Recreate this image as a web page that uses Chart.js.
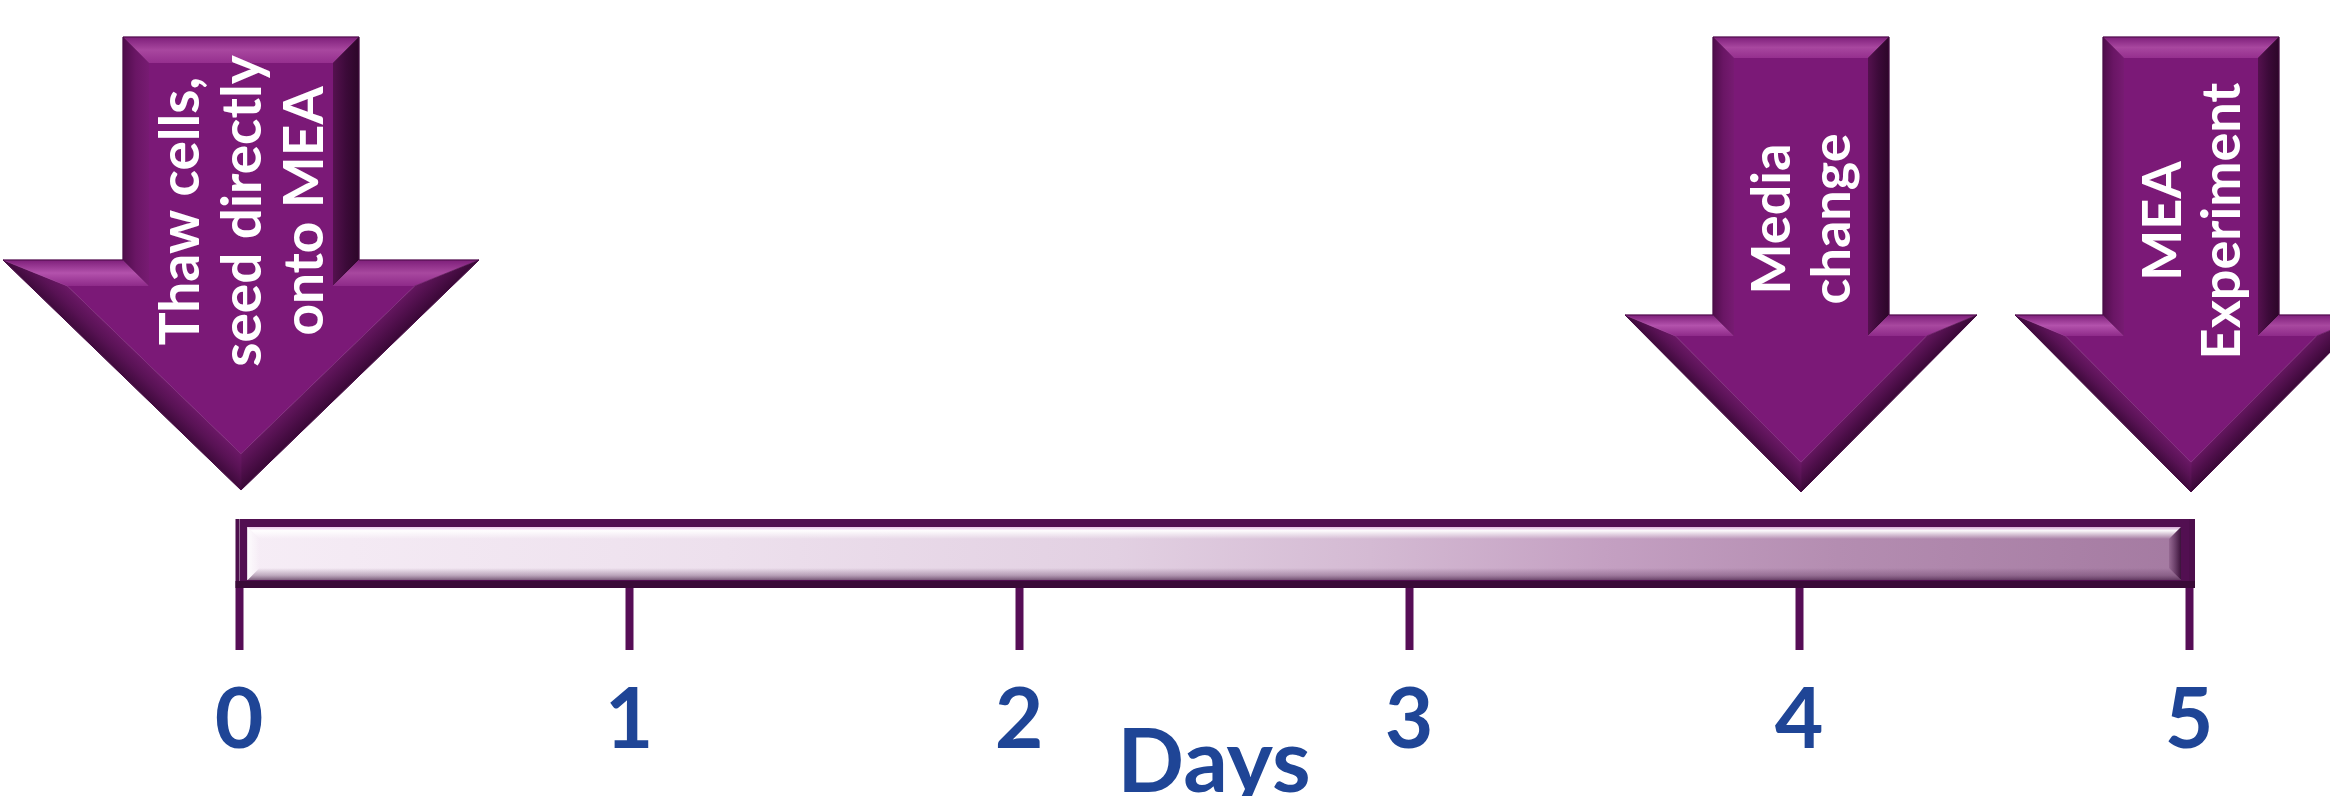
<!DOCTYPE html>
<html>
<head>
<meta charset="utf-8">
<title>MEA culture timeline</title>
<script src="https://cdn.jsdelivr.net/npm/chart.js@4.4.1/dist/chart.umd.min.js"></script>
<style>
    html, body { margin: 0; padding: 0; background: #ffffff; }
    #wrap { width: 2330px; height: 796px; position: relative; }
</style>
</head>
<body>
<div id="wrap"><canvas id="timeline"></canvas></div>
<script>
// Timeline data
const dayTicks = [0, 1, 2, 3, 4, 5];
const timelineSpan = [0, 5];
const eventDays = [0, 4, 5];
const eventLabels = [
    ['Thaw cells,', 'seed directly', 'onto MEA'],
    ['Media', 'change'],
    ['MEA', 'Experiment']
];
const axisTitle = 'Days';

// Look of the event arrows (pixels)
const arrowShapes = [
    { top: 37, neck: 260, tip: 490, shaft: 118, head: 238, bevel: 26, font: 55, lineGap: 62, textY: 211 },
    { top: 37, neck: 315, tip: 492, shaft: 88, head: 176, bevel: 21, font: 54, lineGap: 60, textY: 219 },
    { top: 37, neck: 315, tip: 492, shaft: 88, head: 176, bevel: 21, font: 54, lineGap: 59, textY: 221 }
];
const arrowFill = '#7b1977';
// outer / middle / inner colour of each bevel, edge by edge
const bevelColors = [
    ['#7e1f7a', '#a8479f', '#952f8e'],  // shaft top
    ['#2c0628', '#3c0a39', '#55114f'],  // shaft right
    ['#7e1f7a', '#a8489f', '#8e2a89'],  // right shoulder
    ['#3a0837', '#4f0f4b', '#64165f'],  // right slope
    ['#3f0a3c', '#581254', '#6b1866'],  // left slope
    ['#7e1f7a', '#b352ac', '#8e2a89'],  // left shoulder
    ['#4f0d4b', '#6a1665', '#771b72']   // shaft left
];
const labelBlue = '#1f4596';
const tickPurple = '#560d56';

// shrink a polygon by d pixels (points listed clockwise on screen)
function insetPolygon(pts, d) {
    const n = pts.length;
    const lines = pts.map((p, i) => {
        const q = pts[(i + 1) % n];
        const dx = q[0] - p[0], dy = q[1] - p[1];
        const len = Math.hypot(dx, dy);
        return { x: p[0] - dy / len * d, y: p[1] + dx / len * d, ux: dx, uy: dy, nx: -dy / len, ny: dx / len };
    });
    const inner = pts.map((p, i) => {
        const a = lines[(i - 1 + n) % n], b = lines[i];
        const cr = a.ux * b.uy - a.uy * b.ux;
        const t = ((b.x - a.x) * b.uy - (b.y - a.y) * b.ux) / cr;
        return [a.x + a.ux * t, a.y + a.uy * t];
    });
    return { inner, lines };
}

function drawArrow(ctx, cx, s, lines) {
    const outer = [
        [cx - s.shaft, s.top], [cx + s.shaft, s.top], [cx + s.shaft, s.neck],
        [cx + s.head, s.neck], [cx, s.tip], [cx - s.head, s.neck], [cx - s.shaft, s.neck]
    ];
    const { inner, lines: edges } = insetPolygon(outer, s.bevel);

    ctx.save();
    outer.forEach((p, i) => {
        const j = (i + 1) % outer.length;
        const mx = (p[0] + outer[j][0]) / 2, my = (p[1] + outer[j][1]) / 2;
        const e = edges[i];
        const g = ctx.createLinearGradient(mx, my, mx + e.nx * s.bevel, my + e.ny * s.bevel);
        g.addColorStop(0, bevelColors[i][0]);
        g.addColorStop(0.5, bevelColors[i][1]);
        g.addColorStop(1, bevelColors[i][2]);
        ctx.beginPath();
        ctx.moveTo(p[0], p[1]);
        ctx.lineTo(outer[j][0], outer[j][1]);
        ctx.lineTo(inner[j][0], inner[j][1]);
        ctx.lineTo(inner[i][0], inner[i][1]);
        ctx.closePath();
        ctx.fillStyle = g;
        ctx.fill();
        ctx.strokeStyle = g;
        ctx.lineWidth = 0.6;
        ctx.stroke();
    });

    ctx.beginPath();
    inner.forEach((p, i) => i ? ctx.lineTo(p[0], p[1]) : ctx.moveTo(p[0], p[1]));
    ctx.closePath();
    ctx.fillStyle = arrowFill;
    ctx.fill();

    ctx.beginPath();
    outer.forEach((p, i) => i ? ctx.lineTo(p[0], p[1]) : ctx.moveTo(p[0], p[1]));
    ctx.closePath();
    ctx.strokeStyle = '#4a0c47';
    ctx.lineWidth = 1;
    ctx.stroke();

    // label runs bottom-to-top inside the shaft
    const cap = s.font * 0.72;
    ctx.translate(cx, s.textY);
    ctx.rotate(-Math.PI / 2);
    ctx.fillStyle = '#ffffff';
    ctx.font = 'bold ' + s.font + 'px Lato';
    ctx.textAlign = 'center';
    ctx.textBaseline = 'alphabetic';
    lines.forEach((line, i) => {
        ctx.fillText(line, 0, (i - (lines.length - 1) / 2) * s.lineGap + cap / 2);
    });
    ctx.restore();
}

const eventArrows = {
    id: 'eventArrows',
    afterDraw(chart) {
        const xScale = chart.scales.x;
        eventDays.forEach((day, i) => {
            drawArrow(chart.ctx, xScale.getPixelForValue(day) + 2, arrowShapes[i], eventLabels[i]);
        });
    }
};

// glassy bevel over the timeline bar
const barShine = {
    id: 'barShine',
    afterDatasetsDraw(chart) {
        const bar = chart.getDatasetMeta(0).data[0];
        if (!bar) return;
        const { x, y, base, height } = bar.getProps(['x', 'y', 'base', 'height'], true);
        const left = Math.min(x, base), right = Math.max(x, base);
        const top = y - height / 2, bottom = y + height / 2;
        const bw = 8, b = 12;
        const il = left + bw, ir = right - bw, it = top + bw, ib = bottom - bw;
        const ctx = chart.ctx;
        ctx.save();

        // frame ends and darker lower edge
        ctx.fillStyle = '#4d0e4c';
        ctx.fillRect(left - 4, top, 4, height);
        ctx.fillRect(right, top, 6, height);
        ctx.fillStyle = '#3a0a38';
        ctx.fillRect(left - 4, bottom - 7, right - left + 10, 7);

        const quad = (pts, fill) => {
            ctx.beginPath();
            pts.forEach((p, i) => i ? ctx.lineTo(p[0], p[1]) : ctx.moveTo(p[0], p[1]));
            ctx.closePath();
            ctx.fillStyle = fill;
            ctx.fill();
        };

        let g = ctx.createLinearGradient(0, it, 0, it + b);
        g.addColorStop(0, 'rgba(235,190,235,0.7)');
        g.addColorStop(0.3, 'rgba(255,255,255,0.95)');
        g.addColorStop(1, 'rgba(255,255,255,0)');
        quad([[il, it], [ir, it], [ir - b, it + b], [il + b, it + b]], g);

        g = ctx.createLinearGradient(0, ib - b, 0, ib);
        g.addColorStop(0, 'rgba(90,50,90,0)');
        g.addColorStop(0.6, 'rgba(90,50,90,0.35)');
        g.addColorStop(1, 'rgba(60,20,60,0.65)');
        quad([[il + b, ib - b], [ir - b, ib - b], [ir, ib], [il, ib]], g);

        g = ctx.createLinearGradient(il, 0, il + b, 0);
        g.addColorStop(0, 'rgba(255,255,255,0.8)');
        g.addColorStop(1, 'rgba(255,255,255,0)');
        quad([[il, it], [il + b, it + b], [il + b, ib - b], [il, ib]], g);

        g = ctx.createLinearGradient(ir - b, 0, ir, 0);
        g.addColorStop(0, 'rgba(60,10,60,0.15)');
        g.addColorStop(1, 'rgba(40,0,40,0.85)');
        quad([[ir, it], [ir, ib], [ir - b, ib - b], [ir - b, it + b]], g);

        ctx.restore();
    }
};

let fillCache = null;
function barGradient(chart) {
    const area = chart.chartArea;
    if (!area) return '#e0cce0';
    if (fillCache && fillCache.w === area.width) return fillCache.g;
    const g = chart.ctx.createLinearGradient(area.left, 0, area.right, 0);
    g.addColorStop(0, '#f6edf6');
    g.addColorStop(0.25, '#ede0ed');
    g.addColorStop(0.45, '#e2d0e2');
    g.addColorStop(0.58, '#d4bad3');
    g.addColorStop(0.7, '#c4a0c2');
    g.addColorStop(0.82, '#b48db1');
    g.addColorStop(1, '#a47aa1');
    fillCache = { w: area.width, g };
    return g;
}

const ctx = document.getElementById('timeline').getContext('2d');
const timelineChart = new Chart(ctx, {
    type: 'bar',
    data: {
        labels: ['Culture'],
        datasets: [{
            data: [timelineSpan],
            backgroundColor: c => barGradient(c.chart),
            borderColor: '#520f51',
            borderWidth: 8,
            borderSkipped: false,
            inflateAmount: 0,
            barPercentage: 1,
            categoryPercentage: 1
        }]
    },
    options: {
        indexAxis: 'y',
        responsive: true,
        maintainAspectRatio: false,
        animation: false,
        layout: { padding: { top: 519, left: 239, right: 141, bottom: 0 } },
        plugins: {
            legend: { display: false },
            tooltip: { enabled: false }
        },
        scales: {
            x: {
                type: 'linear',
                min: timelineSpan[0],
                max: timelineSpan[1],
                afterBuildTicks: scale => { scale.ticks = dayTicks.map(v => ({ value: v })); },
                afterFit: scale => { scale.height = 208; },
                ticks: {
                    color: labelBlue,
                    padding: 21,
                    font: { family: 'Lato', size: 84, weight: 'bold' },
                    maxRotation: 0
                },
                grid: {
                    drawOnChartArea: false,
                    drawTicks: true,
                    tickLength: 62,
                    tickWidth: 8,
                    tickColor: tickPurple
                },
                border: { display: false },
                title: {
                    display: true,
                    text: axisTitle,
                    color: labelBlue,
                    font: { family: 'Lato', size: 88, weight: 'bold', lineHeight: 0.6 },
                    padding: { top: 0, bottom: 6 }
                }
            },
            y: { display: false }
        }
    },
    plugins: [barShine, eventArrows]
});
</script>
</body>
</html>
